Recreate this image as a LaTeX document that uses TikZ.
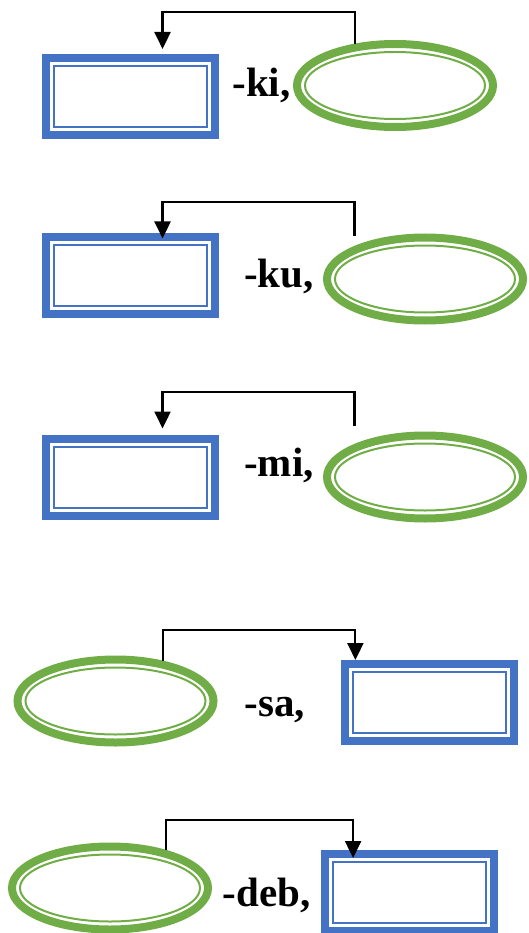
\documentclass[tikz,border=0pt]{standalone}
\usepackage{fontspec}
\setmainfont{Liberation Serif}
\usepackage{tikz}
\usetikzlibrary{shapes.geometric}
\usetikzlibrary{arrows.meta}
\definecolor{slotblue}{HTML}{4472C4}
\definecolor{slotgreen}{HTML}{70AD47}

\begin{document}
\begin{tikzpicture}[x=1pt,y=-1pt,
	rslot/.style={draw=slotblue, line width=8, rectangle, inner sep=0, minimum width=169, minimum height=77},
	rslotin/.style={draw=slotblue, line width=2, rectangle, inner sep=0, minimum width=153, minimum height=61},
	eslot/.style={draw=slotgreen, line width=8, ellipse, inner sep=0, minimum width=196, minimum height=83},
	eslotin/.style={draw=slotgreen, line width=2, ellipse, inner sep=0, minimum width=180, minimum height=67},
	suffix/.style={anchor=base, inner sep=0, font=\fontsize{41}{48}\selectfont\bfseries},
	link/.style={draw=black, line width=2.2, -{Triangle[length=17pt,width=16pt]}}]

\useasboundingbox (0,0) rectangle (528,933);

% -ki,
\node[rslot] (r1) at (130.5,96.5) {};
\node[rslotin] (r1i) at (130.5,96.5) {};
\node[eslot] (e1) at (395,85.5) {};
\node[eslotin] (e1i) at (395,85.5) {};
\node[suffix] (s1) at (261.5,97) {-ki,};

% -ku,
\node[rslot] (r2) at (130.5,275) {};
\node[rslotin] (r2i) at (130.5,275) {};
\node[eslot] (e2) at (425,279) {};
\node[eslotin] (e2i) at (425,279) {};
\node[suffix] (s2) at (279,287) {-ku,};

% -mi,
\node[rslot] (r3) at (130.5,477) {};
\node[rslotin] (r3i) at (130.5,477) {};
\node[eslot] (e3) at (425,477) {};
\node[eslotin] (e3i) at (425,477) {};
\node[suffix] (s3) at (279,476) {-mi,};

% -sa,
\node[eslot] (e4) at (115.5,701) {};
\node[eslotin] (e4i) at (115.5,701) {};
\node[rslot] (r4) at (429,702.5) {};
\node[rslotin] (r4i) at (429,702.5) {};
\node[suffix] (s4) at (275,716) {-sa,};

% -deb,
\node[eslot] (e5) at (110,888) {};
\node[eslotin] (e5i) at (110,888) {};
\node[rslot] (r5) at (409.5,892.5) {};
\node[rslotin] (r5i) at (409.5,892.5) {};
\node[suffix] (s5) at (266.5,906) {-deb,};

% brackets
\draw[link, shorten >=5] (e1.134) -- (e1.134 |- 0,12) -| (r1.53);
\draw[link, shorten <=10, shorten >=-6] (e2.155) -- (e2.155 |- 0,202) -| (r2.53);
\draw[link, shorten <=18, shorten >=6] (e3.155) -- (e3.155 |- 0,392) -| (r3.53);
\draw[link] (e4.40) -- (e4.40 |- 0,630) -| (r4.150);
\draw[link, shorten >=-8] (e5.34) -- (e5.34 |- 0,820) -| (r5.143);

\end{tikzpicture}
\end{document}
